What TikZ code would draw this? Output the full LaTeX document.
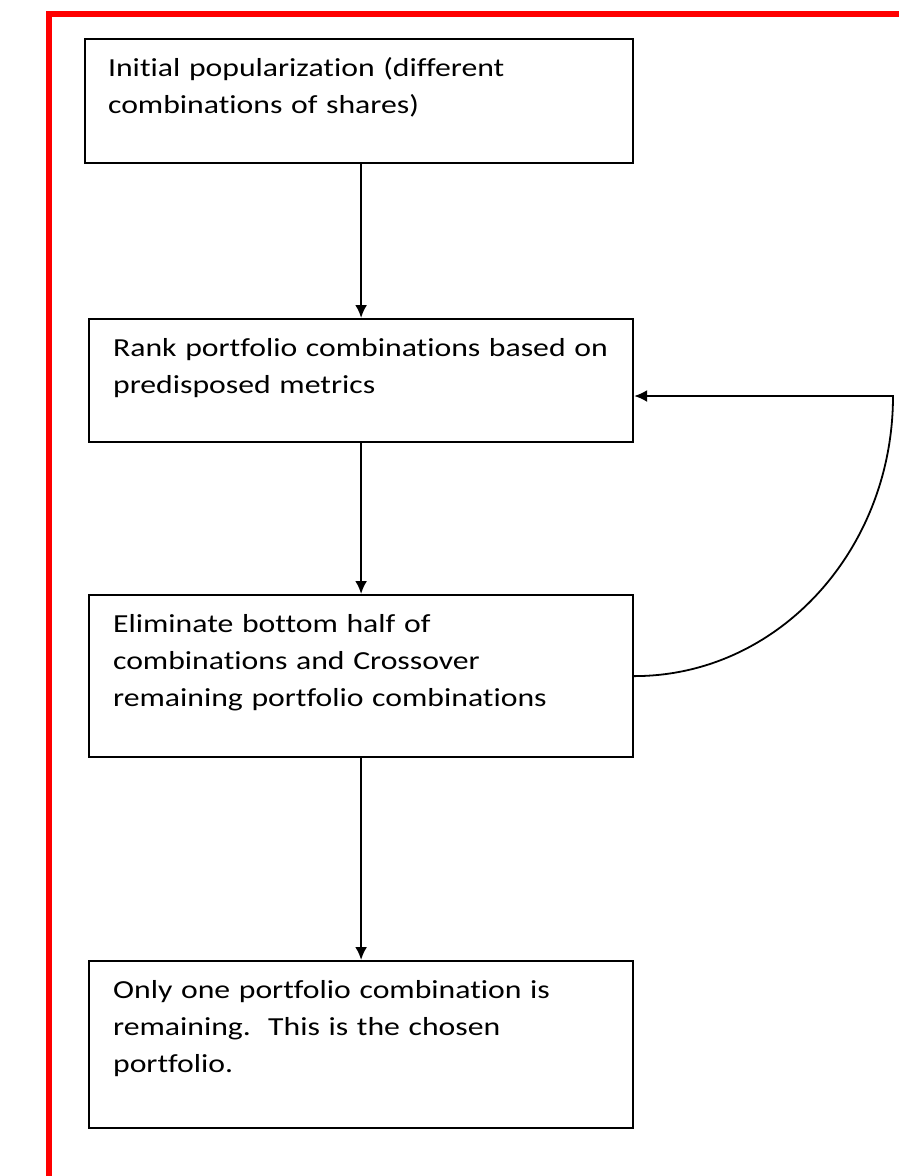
\documentclass[tikz,border=0pt]{standalone}
\usepackage{fontspec}
\setmainfont{Carlito}[FakeStretch=1.22, Ligatures=NoCommon]
\usetikzlibrary{arrows.meta}

\begin{document}
\begin{tikzpicture}[x=1pt, y=-1pt,
    >={Latex[length=13pt, width=12pt]},
    stage/.style={draw, line width=2.2pt, anchor=north west, align=left,
      inner xsep=24pt, inner ysep=0pt, text height=37pt,
      font=\fontsize{26}{37}\selectfont},
    link/.style={->, line width=2.2pt}]
  \useasboundingbox (0,0) rectangle (899,1176);
  \clip (0,0) rectangle (899,1176);

  % Red frame
  \draw[red, line width=6pt] (49,1200) -- (49,14) -- (920,14);

  % Boxes
  \node[stage, inner xsep=23pt, text width=502pt, text depth=87pt] (init) at (84,38)
    {Initial popularization (different\\combinations of shares)};
  \node[stage, text width=496pt, text depth=86pt] (rank) at (88,318)
    {Rank portfolio combinations based on\\predisposed metrics};
  \node[stage, text width=496pt, text depth=125pt] (elim) at (88,594)
    {Eliminate bottom half of\\combinations and Crossover\\remaining portfolio combinations};
  \node[stage, text width=496pt, text depth=130pt] (chosen) at (88,960)
    {Only one portfolio combination is\\remaining.\ \ This is the chosen\\portfolio.};

  % Arrows
  \draw[link] (rank.north |- init.south) -- (rank.north);
  \draw[link] (rank) -- (elim);
  \draw[link] (elim) -- (chosen);

  % Loop back
  \coordinate (turn) at (893,396);
  \draw[link, line width=1.8pt] (elim.east) .. controls +(144,0) and +(0,154) .. (turn)
    -- (turn -| rank.east);
\end{tikzpicture}
\end{document}
